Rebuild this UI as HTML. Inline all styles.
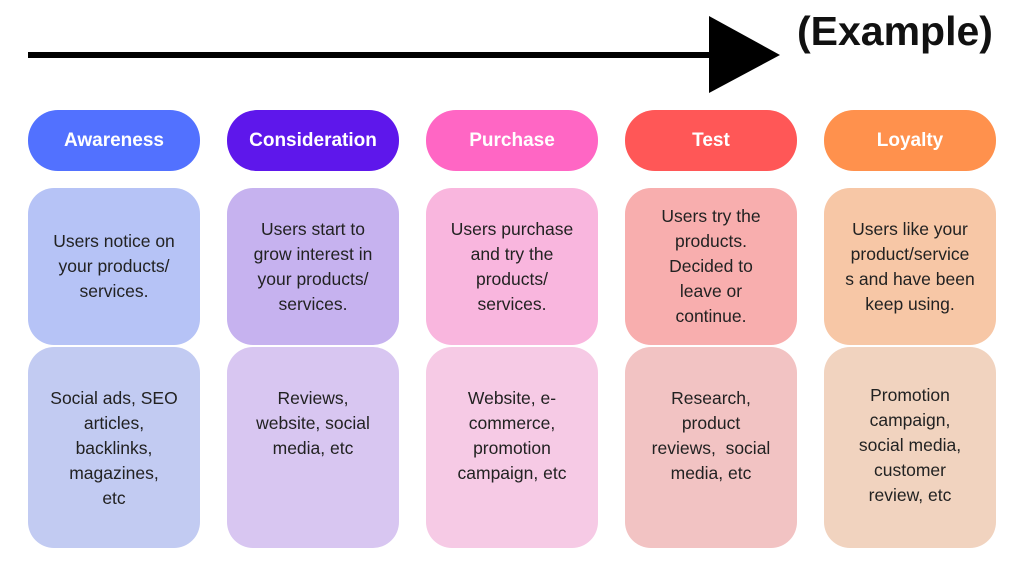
<!DOCTYPE html><html><head><style>
body{margin:0;width:1024px;height:576px;background:#fff;position:relative;overflow:hidden;font-family:"Liberation Sans",sans-serif}
.b{position:absolute;display:flex;align-items:center;justify-content:center;text-align:center;box-sizing:border-box;white-space:nowrap}
.h{height:61px;top:110px;border-radius:30px;color:#fff;font-weight:bold;font-size:19px}
.m{top:188px;height:157px;border-radius:26px;font-size:17.5px;line-height:25px;color:#222}
.l{top:347px;height:201px;border-radius:26px;font-size:17.5px;line-height:25px;color:#222;align-items:flex-start;padding-top:39px}
</style></head><body>
<div style="position:absolute;left:28px;top:52px;width:684px;height:6px;background:#000"></div>
<svg style="position:absolute;left:0;top:0" width="1024" height="100"><polygon points="709,16 780,55 709,93" fill="#000"/></svg>
<div style="position:absolute;left:797px;top:8px;font-size:41px;font-weight:bold;color:#111">(Example)</div>

<div class="b h" style="left:28px;width:172px;background:#5271ff">Awareness</div>
<div class="b h" style="left:227px;width:172px;background:#5e17eb">Consideration</div>
<div class="b h" style="left:426px;width:172px;background:#ff66c4">Purchase</div>
<div class="b h" style="left:625px;width:172px;background:#ff5757">Test</div>
<div class="b h" style="left:824px;width:172px;background:#ff914d">Loyalty</div>

<div class="b m" style="left:28px;width:172px;background:#b6c3f6">Users notice on<br>your products/<br>services.</div>
<div class="b m" style="left:227px;width:172px;background:#c6b2ef">Users start to<br>grow interest in<br>your products/<br>services.</div>
<div class="b m" style="left:426px;width:172px;background:#f9b6de">Users purchase<br>and try the<br>products/<br>services.</div>
<div class="b m" style="left:625px;width:172px;background:#f8aeae">Users try the<br>products.<br>Decided to<br>leave or<br>continue.</div>
<div class="b m" style="left:824px;width:172px;background:#f7c7a6">Users like your<br>product/service<br>s and have been<br>keep using.</div>

<div class="b l" style="left:28px;width:172px;background:#c2cbf2">Social ads, SEO<br>articles,<br>backlinks,<br>magazines,<br>etc</div>
<div class="b l" style="left:227px;width:172px;background:#d8c6f1">Reviews,<br>website, social<br>media, etc</div>
<div class="b l" style="left:426px;width:172px;background:#f6cae5">Website, e-<br>commerce,<br>promotion<br>campaign, etc</div>
<div class="b l" style="left:625px;width:172px;background:#f2c3c3">Research,<br>product<br>reviews,&nbsp; social<br>media, etc</div>
<div class="b l" style="left:824px;width:172px;background:#f1d3bf;padding-top:36px">Promotion<br>campaign,<br>social media,<br>customer<br>review, etc</div>
</body></html>
